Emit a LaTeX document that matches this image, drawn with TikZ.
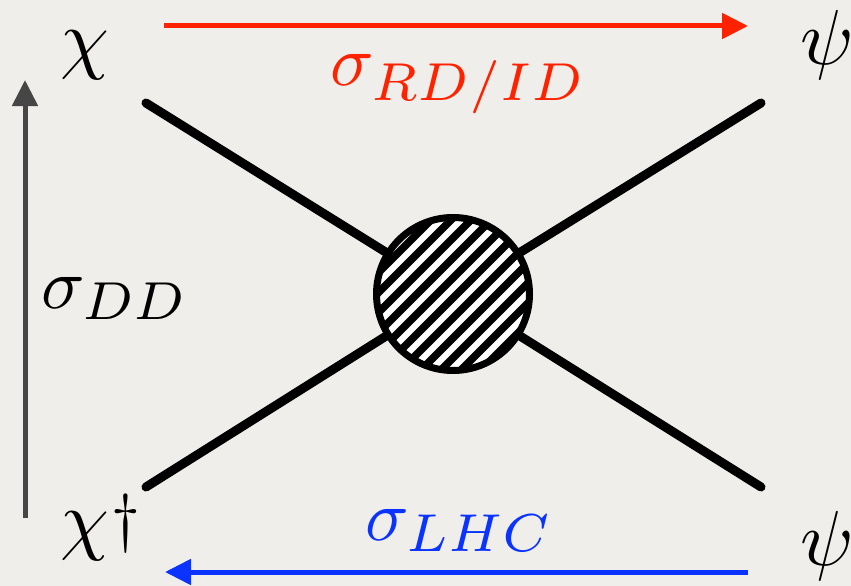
\documentclass[tikz,border=0pt]{standalone}
\usepackage{graphicx}
\usetikzlibrary{arrows.meta}
\definecolor{paper}{HTML}{F0EEEA}
\definecolor{redarr}{HTML}{FF2200}
\definecolor{bluearr}{HTML}{0A33FF}
\definecolor{grayarr}{HTML}{464646}
\newcommand{\subsc}[1]{\scalebox{1.06}{$\scriptstyle #1$}}
\begin{document}
\begin{tikzpicture}[x=1pt,y=-1pt,
  leg/.style={line width=9pt,line cap=round,black},
  lbl/.style={inner sep=0pt,anchor=base west},
  flowarrow/.style={line width=5pt,-{Triangle[length=26pt,width=25pt]}},
  blobstyle/.style={circle,draw=black,line width=7pt,fill=white,minimum size=153pt,inner sep=0pt}]
\fill[paper] (0,0) rectangle (851,586);
\useasboundingbox (0,0) rectangle (851,586);
% corners of the legs
\coordinate (tl) at (146,103);
\coordinate (tr) at (761,103);
\coordinate (bl) at (146,487);
\coordinate (br) at (761,487);
\coordinate (c) at (453,294);
\draw[leg] (tl) -- (c);
\draw[leg] (tr) -- (c);
\draw[leg] (bl) -- (c);
\draw[leg] (br) -- (c);
\node[blobstyle,path picture={
  \foreach \k in {-10,...,10}
    \draw[line width=7.5pt] ([xshift=\k*20pt+4pt]path picture bounding box.center) ++(-110pt,-110pt) -- ++(220pt,220pt);
}] (blob) at (c) {};
% particle labels
\node[lbl] (chi) at (60,65) {\scalebox{7.8}{$\chi$}};
\node[lbl] (psitop) at (800,65) {\scalebox{7.8}{$\psi$}};
\node[lbl] (chid) at (60,545) {\scalebox{7.8}{$\chi$\kern0.35pt\raisebox{0.65pt}{\scalebox{0.83}{$\dagger$}}}};
\node[lbl] (psibot) at (800,565) {\scalebox{7.8}{$\psi$}};
% cross-section labels
\node[lbl,text=redarr] (srd) at (330,85) {\scalebox{7.2}{$\sigma_{\subsc{RD/ID}}$}};
\node[lbl,text=bluearr] (slhc) at (365,540) {\scalebox{7.2}{$\sigma_{\subsc{LHC}}$}};
\node[lbl] (sdd) at (41,308) {\scalebox{7.2}{$\sigma_{\subsc{DD}}$}};
% arrows
\coordinate (ra) at (164,26);
\coordinate (rb) at (748,26);
\coordinate (ba) at (748,572);
\coordinate (bb) at (165,572);
\coordinate (ga) at (25,518);
\coordinate (gb) at (25,80);
\draw[flowarrow,redarr] (ra) -- (rb);
\draw[flowarrow,bluearr] (ba) -- (bb);
\draw[flowarrow,grayarr] (ga) -- (gb);
\end{tikzpicture}
\end{document}
